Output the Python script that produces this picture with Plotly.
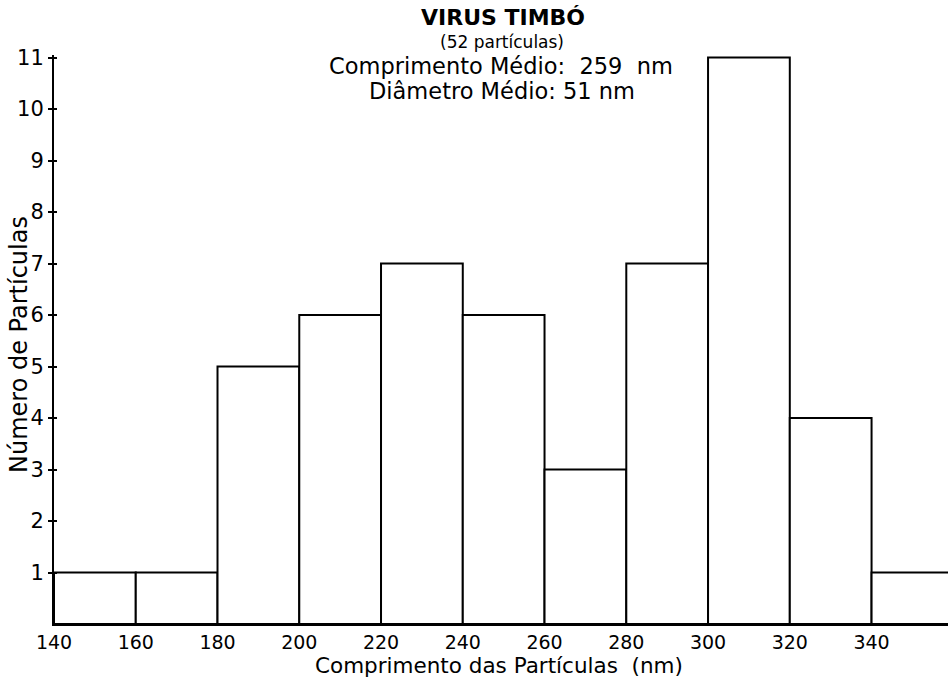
import plotly.graph_objects as go

bin_starts = [140, 160, 180, 200, 220, 240, 260, 280, 300, 320, 340]
counts = [1, 1, 5, 6, 7, 6, 3, 7, 11, 4, 1]
bin_width = 20
x_ticks = [140, 160, 180, 200, 220, 240, 260, 280, 300, 320, 340]
y_ticks = [1, 2, 3, 4, 5, 6, 7, 8, 9, 10, 11]

centers = [s + bin_width / 2 for s in bin_starts]

FONT = "DejaVu Sans, sans-serif"
W, H = 948, 678
L, R, T, B = 54, 0, 55, 54
Y_RANGE = [0, 11.05]

fig = go.Figure(go.Bar(
    x=centers, y=counts, width=[bin_width] * len(counts),
    marker=dict(color="white", line=dict(color="black", width=2)),
))
# invisible helper trace for the inner-tick overlay axis
fig.add_trace(go.Scatter(x=[None], y=[None], yaxis="y2", showlegend=False, hoverinfo="skip"))

fig.update_layout(
    width=W, height=H,
    margin=dict(l=L, r=R, t=T, b=B, autoexpand=False),
    paper_bgcolor="white", plot_bgcolor="white",
    showlegend=False,
    font=dict(family=FONT, color="black", size=21),
    xaxis=dict(
        range=[140, 358.7], tickvals=x_ticks, ticktext=[str(v) for v in x_ticks],
        showgrid=False, zeroline=False, showline=True, linecolor="black", linewidth=2,
        ticks="", tickfont=dict(size=19), automargin=False, ticklabelstandoff=0,
    ),
    yaxis=dict(
        range=Y_RANGE, tickvals=y_ticks, ticktext=[str(v) for v in y_ticks],
        showgrid=False, zeroline=False, showline=True, linecolor="black", linewidth=2,
        ticks="outside", ticklen=4, tickwidth=2, tickcolor="black", tickfont=dict(size=21),
        automargin=False,
    ),
    yaxis2=dict(
        range=Y_RANGE, tickvals=y_ticks, showticklabels=False, overlaying="y", side="left",
        showgrid=False, zeroline=False, showline=False,
        ticks="inside", ticklen=3, tickwidth=2, tickcolor="black", automargin=False,
    ),
)

def px(xp, yp):
    return (xp - L) / (W - L - R), (H - B - yp) / (H - T - B)

ann = []
for text, xp, yp, size, angle in [
    ("<b>VIRUS TIMBÓ</b>", 503, 18, 22, 0),
    ("(52 partículas)", 502, 42, 17, 0),
    ("Comprimento Médio:\u00a0 259\u00a0 nm", 501, 66, 22.5, 0),
    ("Diâmetro Médio: 51 nm", 502, 91, 22.5, 0),
    ("Comprimento das Partículas\u00a0 (nm)", 499, 665, 21.5, 0),
    ("Número de Partículas", 19, 345, 24, -90),
]:
    ax, ay = px(xp, yp)
    ann.append(dict(text=text, x=ax, y=ay, xref="paper", yref="paper",
                    showarrow=False, font=dict(size=size), textangle=angle,
                    xanchor="center", yanchor="middle", borderpad=0))
fig.update_layout(annotations=ann)

fig.write_html(
    "out.html",
    config={"displayModeBar": False},
    post_script="document.body.style.margin='0';document.body.style.overflow='hidden';",
)
